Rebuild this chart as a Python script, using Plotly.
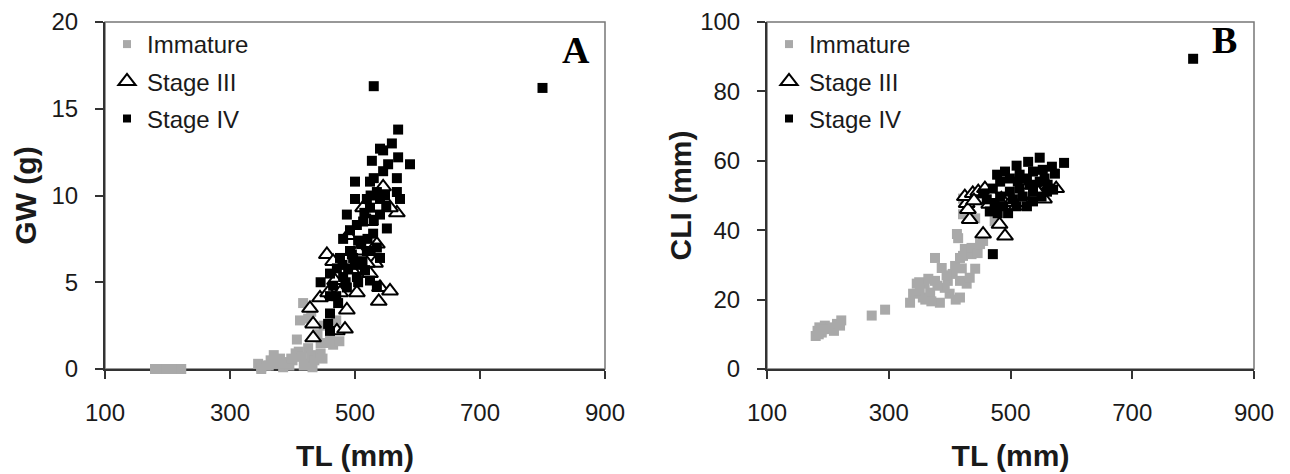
import plotly.graph_objects as go

# ---------------- Panel A: GW (g) vs TL (mm) ----------------
a_imm_tl = [180, 186, 192, 198, 204, 210, 216, 222,
            345, 350, 358, 365, 370, 375, 380, 385, 390, 395,
            400, 405, 410, 415, 420, 425, 430, 435, 440, 445,
            407, 412, 417, 425, 430, 440, 445, 450, 455, 460,
            465, 470, 475, 350, 362, 372, 388, 398, 418, 432, 448]
a_imm_gw = [0, 0, 0, 0, 0, 0, 0, 0,
            0.3, 0.1, 0.2, 0.5, 0.8, 0.3, 0.6, 0.1, 0.4, 0.2,
            0.5, 0.9, 1.0, 0.7, 0.3, 1.2, 0.8, 0.5, 0.7, 0.9,
            1.7, 2.8, 3.8, 2.9, 3.3, 2.0, 1.5, 2.5, 1.5, 1.8,
            1.4, 2.8, 1.6, 0.0, 0.2, 0.4, 0.3, 0.6, 0.2, 0.1, 0.6]

a_s3_tl = [428, 433, 433, 444, 455, 457, 468, 476, 471, 484,
           487, 503, 489, 513, 524, 532, 538, 540, 556, 567,
           545, 535, 524, 505, 519, 465, 495, 556]
a_s3_gw = [3.5, 2.6, 1.8, 4.1, 6.6, 4.4, 5.1, 4.4, 2.2, 2.3,
           3.4, 4.4, 7.7, 9.3, 5.5, 6.1, 3.9, 4.7, 4.5, 9.0,
           10.5, 7.2, 8.5, 6.8, 6.1, 6.2, 5.7, 9.3]

a_s4_tl = [569, 559, 545, 540, 527, 569, 588, 553, 545, 567,
           500, 524, 567, 572, 500, 519, 540, 487, 513, 551,
           492, 529, 481, 505, 535, 492, 519, 476, 508, 540,
           471, 489, 516, 460, 481, 503, 524, 445, 465, 487,
           535, 460, 460, 457, 460, 473, 497, 503, 524, 535,
           548, 480, 495, 510, 520, 530, 540, 515, 525, 530,
           550, 505, 485, 470, 500, 512, 525, 530, 800]
a_s4_gw = [13.8, 13.0, 12.6, 12.7, 12.0, 12.2, 11.8, 11.8, 11.4, 11.0,
           10.8, 10.8, 10.2, 9.8, 9.8, 9.8, 9.8, 8.9, 8.5, 8.1,
           8.0, 7.8, 7.5, 7.4, 7.0, 6.8, 6.8, 6.4, 6.2, 6.4,
           5.8, 5.8, 5.7, 5.5, 5.3, 5.3, 5.1, 5.0, 4.8, 4.7,
           4.8, 4.2, 3.2, 2.6, 2.2, 3.8, 6.4, 8.3, 9.3, 10.2,
           10.0, 6.0, 6.6, 7.2, 7.5, 8.6, 8.9, 9.0, 10.0, 11.0,
           9.4, 5.0, 5.0, 4.2, 6.0, 6.2, 6.8, 16.3, 16.2]

# ---------------- Panel B: CLI (mm) vs TL (mm) ----------------
b_imm_tl = [180, 183, 186, 190, 195, 200, 205, 210, 215, 220, 222, 185, 192,
            272, 294, 335, 340, 346, 356, 368, 359, 376, 384, 387, 376,
            397, 400, 405, 409, 417, 417, 417, 428, 433, 442, 412, 414,
            422, 425, 436, 436, 446, 455, 442, 422, 422, 474, 392, 351,
            360, 370, 380, 395, 410, 350, 365, 420, 450, 430]
b_imm_cli = [9.5, 11, 12, 10.5, 12.5, 11.5, 12, 11, 13, 12.5, 14, 10, 11.5,
             15.4, 17.1, 19.1, 21.7, 24.6, 20.6, 22.0, 24.6, 25.4, 19.1, 29.1, 32.0,
             25.4, 21.7, 27.4, 29.7, 32.0, 20.6, 25.4, 24.6, 26.3, 28.9, 38.9, 37.7,
             32.6, 34.6, 33.1, 34.9, 33.4, 36.9, 43.4, 44.6, 49.1, 42.6, 23.4, 22.6,
             20.0, 19.5, 24.0, 27.0, 20.0, 25.0, 26.0, 29.0, 36.0, 45.0]

b_s3_tl = [428, 425, 433, 455, 482, 491, 438, 447, 458,
           470, 485, 500, 510, 520, 540, 555, 560, 545, 530, 575, 430, 440, 465]
b_s3_cli = [47.7, 49.7, 43.1, 38.9, 41.7, 38.3, 50.6, 51.1, 52.0,
            50.0, 49.0, 48.0, 47.0, 48.0, 50.0, 49.0, 53.0, 51.0, 53.0, 52.0, 46.0, 48.5, 47.5]

b_s4_tl = [588, 548, 529, 510, 491, 478, 568, 573, 570, 561,
           551, 537, 527, 510, 496, 479, 466, 461, 471, 483,
           499, 515, 537, 553, 548, 532, 515, 499, 483, 504,
           520, 537, 488, 474, 455, 512, 527, 556, 560, 471, 800]
b_s4_cli = [59.4, 60.9, 59.7, 58.6, 56.9, 56.0, 58.3, 56.3, 51.7, 53.1,
            49.7, 48.3, 46.9, 46.9, 44.9, 44.9, 45.4, 48.9, 52.0, 54.0,
            54.9, 56.0, 56.9, 57.4, 54.0, 53.1, 52.0, 51.1, 49.7, 48.9,
            49.7, 51.1, 46.9, 47.4, 50.6, 54.0, 54.9, 54.9, 51.1, 33.1, 89.4]

x_ticks = [100, 300, 500, 700, 900]
a_y_ticks = [0, 5, 10, 15, 20]
b_y_ticks = [0, 20, 40, 60, 80, 100]
series_names = ["Immature", "Stage III", "Stage IV"]

GREY = "#a9a9a9"
BLACK = "#000000"
FONT = "Liberation Sans, Arial, sans-serif"
SERIF = "Liberation Serif, Times New Roman, serif"
TXT = "#1a1a1a"

fig = go.Figure()


def add_panel(xa, ya, imm, s3, s4, legend):
    common = dict(mode="markers", xaxis=xa, yaxis=ya, cliponaxis=False,
                  showlegend=False, hoverinfo="x+y")
    fig.add_trace(go.Scatter(x=imm[0], y=imm[1], name=series_names[0],
                             marker=dict(symbol="square", size=10, color=GREY,
                                         line=dict(width=0)), **common))
    fig.add_trace(go.Scatter(x=s3[0], y=s3[1], name=series_names[1],
                             marker=dict(symbol="triangle-up", size=14, color="white",
                                         line=dict(width=2, color=BLACK)), **common))
    fig.add_trace(go.Scatter(x=s4[0], y=s4[1], name=series_names[2],
                             marker=dict(symbol="square", size=10, color=BLACK,
                                         line=dict(width=0)), **common))
    # legend entries
    leg_markers = [
        dict(symbol="square", size=8, color=GREY, line=dict(width=0)),
        dict(symbol="triangle-up", size=15, color="white", line=dict(width=2, color=BLACK)),
        dict(symbol="square", size=8, color=BLACK, line=dict(width=0)),
    ]
    for i, nm in enumerate(series_names):
        fig.add_trace(go.Scatter(x=[None], y=[None], mode="markers", name=nm,
                                 xaxis=xa, yaxis=ya, marker=leg_markers[i],
                                 legend=legend, legendgroup=f"{legend}{i}",
                                 showlegend=True, hoverinfo="skip"))


add_panel("x", "y", (a_imm_tl, a_imm_gw), (a_s3_tl, a_s3_gw), (a_s4_tl, a_s4_gw), "legend")
add_panel("x2", "y2", (b_imm_tl, b_imm_cli), (b_s3_tl, b_s3_cli), (b_s4_tl, b_s4_cli), "legend2")

# the page adds an 8px body margin, so the figure is 8px smaller and all
# pixel positions are shifted by 8
OFF = 8
W, H = 1290 - OFF, 474 - OFF
Lx0, Lx1 = 105 - OFF, 605 - OFF
Rx0, Rx1 = 767 - OFF, 1254 - OFF
Yt, Yb = 22 - OFF, 369 - OFF

tickfont = dict(family=FONT, size=24, color=TXT)
titlefont = dict(family=FONT, size=30, color=TXT, weight="bold")

xcommon = dict(range=[100, 900], tickvals=x_ticks, ticks="outside", ticklen=8,
               tickwidth=1.5, tickcolor="#333", showline=True, linecolor="#333",
               linewidth=2, showgrid=False, zeroline=False, tickfont=tickfont,
               ticklabelstandoff=13, ticklabeloverflow="allow",
               automargin=False, layer="below traces")
ycommon = dict(ticks="outside", ticklen=8, tickwidth=1.5, tickcolor="#333",
               showline=True, linecolor="#333", linewidth=2, showgrid=False,
               zeroline=False, tickfont=tickfont, ticklabelstandoff=12,
               ticklabeloverflow="allow", automargin=False, layer="below traces")

legend_common = dict(xanchor="left", yanchor="top", bgcolor="rgba(0,0,0,0)",
                     borderwidth=0, tracegroupgap=3, itemwidth=30,
                     font=dict(family=FONT, size=24, color=TXT))

fig.update_layout(
    width=W, height=H,
    margin=dict(l=0, r=0, t=0, b=0),
    paper_bgcolor="white", plot_bgcolor="white",
    font=dict(family=FONT, color=TXT),
    xaxis=dict(domain=[Lx0 / W, Lx1 / W], anchor="y",
               title=dict(text="TL (mm)", font=titlefont, standoff=20), **xcommon),
    yaxis=dict(domain=[1 - Yb / H, 1 - Yt / H], anchor="x", range=[0, 20],
               tickvals=a_y_ticks,
               title=dict(text="GW (g)", font=titlefont, standoff=6), **ycommon),
    xaxis2=dict(domain=[Rx0 / W, Rx1 / W], anchor="y2",
                title=dict(text="TL (mm)", font=titlefont, standoff=20), **xcommon),
    yaxis2=dict(domain=[1 - Yb / H, 1 - Yt / H], anchor="x2", range=[0, 100],
                tickvals=b_y_ticks,
                title=dict(text="CLI (mm)", font=titlefont, standoff=0), **ycommon),
    legend=dict(x=(Lx0 + 2) / W, y=1 - (22 - OFF) / H, **legend_common),
    legend2=dict(x=(Rx0 + 2) / W, y=1 - (22 - OFF) / H, **legend_common),
    shapes=[
        dict(type="rect", xref="x domain", yref="y domain", x0=0, x1=1, y0=0, y1=1,
             line=dict(color="#777", width=1.5), layer="below"),
        dict(type="rect", xref="x2 domain", yref="y2 domain", x0=0, x1=1, y0=0, y1=1,
             line=dict(color="#777", width=1.5), layer="below"),
    ],
    annotations=[
        dict(text="<b>A</b>", xref="x domain", yref="y domain", x=0.942, y=0.92,
             xanchor="center", yanchor="middle", showarrow=False,
             font=dict(family=SERIF, size=38, color="#000")),
        dict(text="<b>B</b>", xref="x2 domain", yref="y2 domain", x=0.940, y=0.947,
             xanchor="center", yanchor="middle", showarrow=False,
             font=dict(family=SERIF, size=38, color="#000")),
    ],
)

fig.write_html("out.html")
